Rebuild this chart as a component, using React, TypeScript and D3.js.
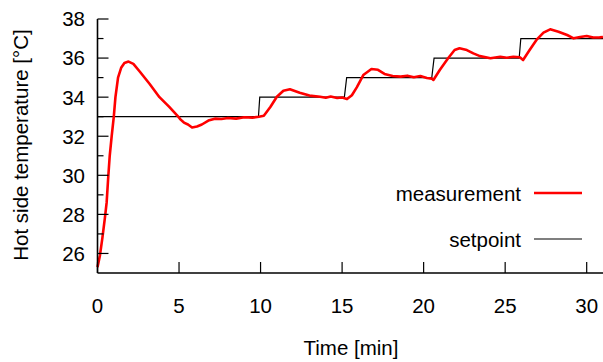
import React from 'react';
import * as d3 from 'd3';

// measurement: [time min, temperature °C]
const measTime = [0, 0.15, 0.3, 0.45, 0.56, 0.65, 0.75, 0.87, 1.0, 1.1, 1.26, 1.45, 1.65, 1.9, 2.2, 2.6, 3.2, 3.8, 4.4, 4.95, 5.1, 5.3, 5.55, 5.8, 6.1, 6.4, 6.8, 7.2, 7.6, 8.0, 8.5, 9.0, 9.5, 9.9, 10.2, 10.6, 11.0, 11.4, 11.8, 12.4, 13.0, 13.65, 14.0, 14.3, 14.7, 15.0, 15.3, 15.6, 15.9, 16.3, 16.8, 17.2, 17.6, 18.1, 18.6, 19.0, 19.4, 19.8, 20.2, 20.5, 20.6, 21.0, 21.5, 21.9, 22.2, 22.65, 23.05, 23.45, 24.1, 24.7, 25.1, 25.5, 25.9, 26.1, 26.5, 26.95, 27.35, 27.76, 28.27, 28.8, 29.2, 29.6, 30.0, 30.4, 30.8, 31.0];
const measTemp = [25.3, 25.9, 26.8, 27.8, 28.6, 29.8, 31.0, 32.0, 33.0, 34.0, 35.0, 35.5, 35.75, 35.82, 35.7, 35.3, 34.67, 34.0, 33.5, 33.0, 32.85, 32.7, 32.6, 32.45, 32.5, 32.6, 32.8, 32.9, 32.88, 32.93, 32.9, 32.97, 32.95, 33.0, 33.05, 33.5, 34.02, 34.33, 34.4, 34.23, 34.08, 34.02, 33.97, 34.03, 33.96, 33.98, 33.9, 34.1, 34.5, 35.13, 35.44, 35.4, 35.19, 35.08, 35.05, 35.1, 35.02, 35.08, 34.98, 34.95, 34.88, 35.4, 35.99, 36.41, 36.5, 36.41, 36.24, 36.1, 35.99, 36.07, 36.02, 36.07, 36.04, 35.9, 36.41, 36.96, 37.3, 37.47, 37.35, 37.18, 37.01, 37.08, 37.13, 37.05, 37.06, 37.08];

// setpoint steps
const setTime = [0, 9.87, 9.95, 15.14, 15.28, 20.5, 20.64, 25.86, 25.96, 31];
const setTemp = [33, 33, 34, 34, 35, 35, 36, 36, 37, 37];

const xTicks = [0, 5, 10, 15, 20, 25, 30];
const yMajor = [26, 28, 30, 32, 34, 36, 38];
const yMinor = [27, 29, 31, 33, 35, 37];

export default function App() {
  const left = 97.5, right = 603, top = 19, bottom = 273;
  const x = d3.scaleLinear().domain([0, 31]).range([left, right]);
  const y = d3.scaleLinear().domain([25, 38]).range([bottom, top]);

  const line = d3.line<[number, number]>().x(d => x(d[0])).y(d => y(d[1]));
  const meas = line(measTime.map((t, i) => [t, measTemp[i]] as [number, number])) || '';
  const setp = line(setTime.map((t, i) => [t, setTemp[i]] as [number, number])) || '';

  const font = 'Liberation Sans, Arial, Helvetica, sans-serif';
  const fs = 20.5;

  return (
    <svg width={603} height={362} style={{ position: 'absolute', left: 0, top: 0 }} fontFamily={font}>
      <rect width={603} height={362} fill="#fff" />
      <path d={setp} fill="none" stroke="#000" strokeWidth={1.2} />
      <path d={meas} fill="none" stroke="#ff0000" strokeWidth={2.6} strokeLinejoin="round" />

      {/* axes */}
      <line x1={left} x2={left} y1={top} y2={bottom} stroke="#000" strokeWidth={1.6} />
      <line x1={left} x2={right} y1={bottom} y2={bottom} stroke="#000" strokeWidth={1.6} />

      {yMajor.map(v => (
        <g key={'ym' + v}>
          <line x1={left} x2={left + 11} y1={y(v)} y2={y(v)} stroke="#000" strokeWidth={1.2} />
          <text x={85} y={y(v)} dy="0.36em" textAnchor="end" fontSize={fs}>{v}</text>
        </g>
      ))}
      {yMinor.map(v => (
        <line key={'yn' + v} x1={left} x2={left + 6} y1={y(v)} y2={y(v)} stroke="#000" strokeWidth={1.2} />
      ))}
      {xTicks.map(v => (
        <g key={'x' + v}>
          <line x1={x(v)} x2={x(v)} y1={bottom} y2={bottom - 11} stroke="#000" strokeWidth={1.2} />
          <text x={x(v)} y={313} textAnchor="middle" fontSize={fs}>{v}</text>
        </g>
      ))}

      <text x={351} y={355} textAnchor="middle" fontSize={fs}>Time [min]</text>
      <text transform={`translate(28,145) rotate(-90)`} textAnchor="middle" fontSize={fs}>Hot side temperature [°C]</text>

      {/* legend */}
      <text x={521} y={194} dy="0.36em" textAnchor="end" fontSize={fs}>measurement</text>
      <line x1={534} x2={582} y1={193} y2={193} stroke="#ff0000" strokeWidth={2.6} />
      <text x={521} y={240} dy="0.36em" textAnchor="end" fontSize={fs}>setpoint</text>
      <line x1={534} x2={582} y1={239} y2={239} stroke="#000" strokeWidth={1.2} />
    </svg>
  );
}
